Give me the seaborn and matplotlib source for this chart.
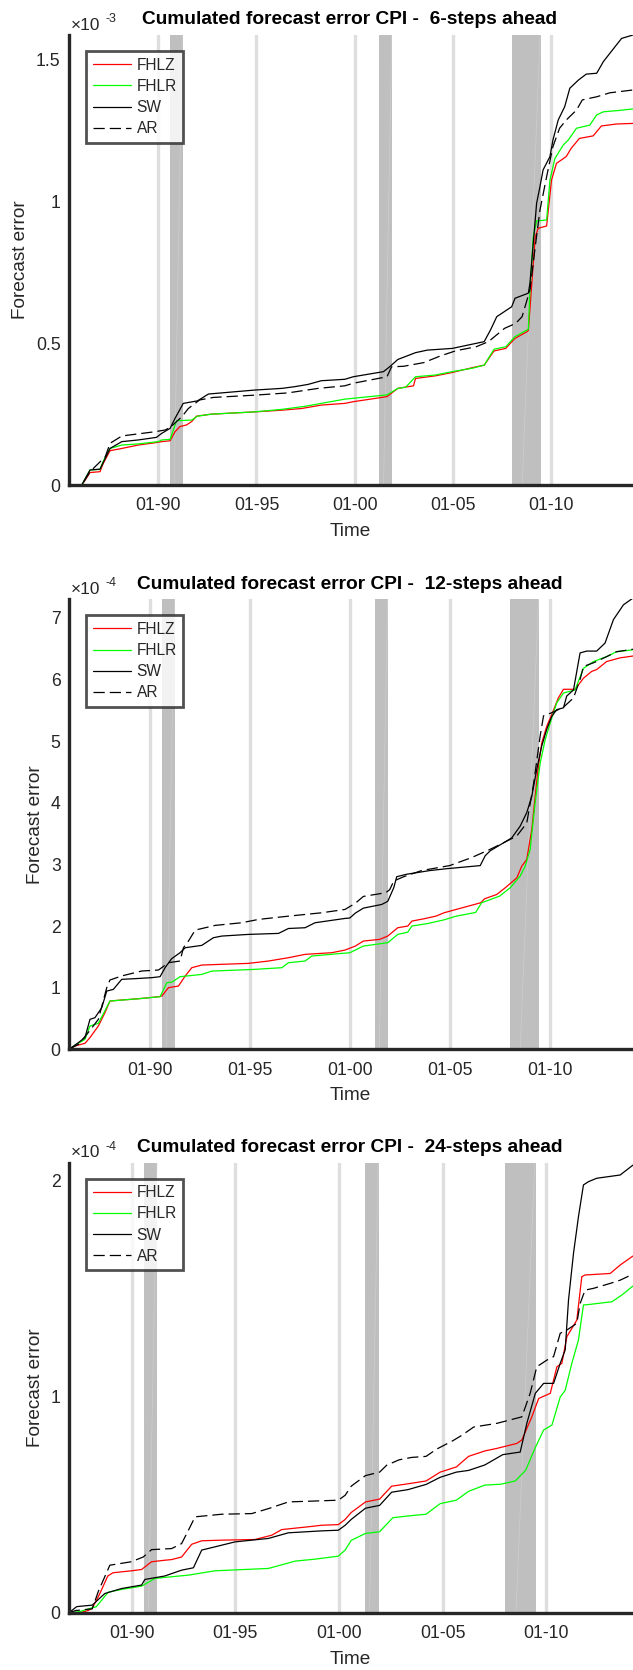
import matplotlib
matplotlib.use("Agg")
import matplotlib.pyplot as plt
from matplotlib.lines import Line2D
import pandas as pd
import seaborn as sns

# ---------------------------------------------------------------------------
# Cumulated forecast errors of CPI (monthly evaluation sample), three horizons.
# Each series: (decimal year, cumulated error in units of the axis multiplier)
# ---------------------------------------------------------------------------
MODELS = ["FHLZ", "FHLR", "SW", "AR"]

# 6-steps ahead, values x 1e-3
FHLZ_6 = [(1985.45, 0), (1986.1, 0), (1986.3, 0.02), (1986.52, 0.044), (1987.03, 0.047), (1987.2, 0.077),
          (1987.54, 0.121), (1988.14, 0.129), (1988.98, 0.141), (1989.83, 0.149), (1990.17, 0.153),
          (1990.6, 0.156), (1990.85, 0.188), (1991.1, 0.206), (1991.44, 0.212), (1991.7, 0.224),
          (1991.95, 0.243), (1992.7, 0.25), (1994.9, 0.258), (1996.3, 0.264), (1997.3, 0.27),
          (1998.3, 0.282), (1999.5, 0.288), (1999.93, 0.294), (2001.0, 0.305), (2001.65, 0.312),
          (2002.2, 0.341), (2003.0, 0.35), (2003.1, 0.376), (2004.1, 0.385), (2004.97, 0.397),
          (2005.99, 0.414), (2006.6, 0.423), (2007.1, 0.473), (2007.7, 0.482), (2008.16, 0.517),
          (2008.78, 0.541), (2008.85, 0.545), (2009.0, 0.688), (2009.2, 0.876), (2009.35, 0.906),
          (2009.78, 0.914), (2010.03, 1.076), (2010.28, 1.135), (2010.78, 1.159), (2011.03, 1.188),
          (2011.45, 1.223), (2012.15, 1.232), (2012.57, 1.267), (2013.35, 1.274), (2014.18, 1.276)]
FHLR_6 = [(1985.45, 0), (1986.1, 0), (1986.3, 0.025), (1986.52, 0.053), (1987.03, 0.055), (1987.2, 0.085),
          (1987.54, 0.129), (1988.14, 0.141), (1988.98, 0.145), (1990.0, 0.153), (1990.17, 0.159),
          (1990.6, 0.161), (1990.93, 0.227), (1991.7, 0.229), (1992.0, 0.243), (1992.7, 0.25),
          (1994.9, 0.258), (1996.3, 0.267), (1997.5, 0.278), (1998.3, 0.288), (1999.5, 0.303),
          (1999.93, 0.306), (2001.65, 0.318), (2002.2, 0.341), (2002.6, 0.345), (2003.1, 0.382),
          (2004.1, 0.388), (2004.97, 0.4), (2005.99, 0.412), (2006.6, 0.423), (2007.1, 0.479),
          (2007.7, 0.488), (2008.16, 0.523), (2008.78, 0.547), (2008.85, 0.55), (2008.93, 0.688),
          (2009.1, 0.876), (2009.27, 0.932), (2009.78, 0.935), (2009.95, 1.076), (2010.2, 1.152),
          (2010.63, 1.2), (2010.88, 1.217), (2011.3, 1.259), (2011.98, 1.27), (2012.33, 1.306),
          (2012.67, 1.317), (2013.35, 1.321), (2014.18, 1.327)]
SW_6 = [(1985.45, 0), (1986.1, 0), (1986.3, 0.025), (1986.52, 0.053), (1987.03, 0.056), (1987.54, 0.129),
        (1988.14, 0.153), (1988.98, 0.159), (1989.9, 0.168), (1990.17, 0.182), (1990.6, 0.2),
        (1990.85, 0.235), (1991.27, 0.288), (1992.0, 0.297), (1992.55, 0.321), (1994.9, 0.335),
        (1996.3, 0.341), (1996.95, 0.347), (1997.63, 0.355), (1998.3, 0.368), (1999.5, 0.373),
        (1999.93, 0.382), (2001.47, 0.4), (2001.78, 0.417), (2002.2, 0.443), (2003.1, 0.467),
        (2003.7, 0.476), (2004.97, 0.482), (2006.2, 0.5), (2006.6, 0.506), (2006.92, 0.547),
        (2007.24, 0.594), (2008.0, 0.629), (2008.17, 0.659), (2008.85, 0.677), (2008.93, 0.712),
        (2009.1, 0.853), (2009.27, 0.994), (2009.44, 1.053), (2009.6, 1.112), (2009.95, 1.159),
        (2010.1, 1.217), (2010.37, 1.288), (2010.7, 1.335), (2010.96, 1.4), (2011.4, 1.429),
        (2011.8, 1.45), (2012.33, 1.453), (2012.67, 1.494), (2013.2, 1.541), (2013.6, 1.576),
        (2014.18, 1.588)]
AR_6 = [(1985.45, 0), (1986.1, 0), (1986.52, 0.047), (1987.3, 0.1), (1987.54, 0.147), (1988.14, 0.173),
        (1989.83, 0.188), (1990.34, 0.194), (1990.6, 0.203), (1991.2, 0.241), (1991.53, 0.27),
        (1992.1, 0.3), (1992.8, 0.309), (1994.9, 0.317), (1996.6, 0.325), (1998.15, 0.341),
        (1999.5, 0.35), (1999.93, 0.359), (2001.65, 0.382), (2001.88, 0.417), (2002.5, 0.419),
        (2003.53, 0.432), (2004.35, 0.455), (2005.17, 0.474), (2006.2, 0.488), (2006.82, 0.506),
        (2007.64, 0.553), (2008.2, 0.57), (2008.53, 0.594), (2008.93, 0.688), (2009.2, 0.841),
        (2009.44, 0.97), (2009.78, 1.088), (2010.1, 1.194), (2010.44, 1.259), (2010.78, 1.288),
        (2011.3, 1.323), (2011.6, 1.359), (2012.33, 1.37), (2013.0, 1.384), (2014.18, 1.394)]

# 12-steps ahead, values x 1e-4
FHLZ_12 = [(1985.94, 0), (1986.24, 0.054), (1986.74, 0.097), (1986.99, 0.19), (1987.41, 0.378),
           (1987.74, 0.594), (1987.99, 0.783), (1988.58, 0.8), (1989.41, 0.82), (1990.42, 0.853),
           (1990.59, 0.864), (1990.92, 1.0), (1991.42, 1.026), (1991.76, 1.19), (1992.09, 1.324),
           (1992.59, 1.367), (1994.93, 1.394), (1995.93, 1.432), (1996.93, 1.486), (1997.76, 1.54),
           (1999.1, 1.567), (1999.76, 1.61), (2000.28, 1.675), (2000.68, 1.756), (2001.49, 1.783),
           (2001.9, 1.837), (2002.4, 1.972), (2002.9, 1.999), (2003.11, 2.08), (2003.72, 2.118),
           (2004.32, 2.161), (2004.72, 2.215), (2005.33, 2.269), (2005.94, 2.323), (2006.55, 2.377),
           (2006.75, 2.442), (2007.36, 2.512), (2007.78, 2.62), (2008.36, 2.78), (2008.61, 2.97),
           (2008.86, 3.08), (2009.11, 3.56), (2009.28, 4.1), (2009.44, 4.59), (2009.61, 4.97),
           (2009.86, 5.24), (2010.11, 5.43), (2010.44, 5.7), (2010.7, 5.84), (2011.28, 5.84),
           (2011.7, 6.02), (2012.11, 6.13), (2012.36, 6.16), (2012.86, 6.29), (2013.53, 6.35),
           (2014.18, 6.38)]
FHLR_12 = [(1985.94, 0), (1986.24, 0.065), (1986.74, 0.162), (1986.99, 0.378), (1987.41, 0.421),
           (1987.99, 0.783), (1989.41, 0.82), (1990.5, 0.853), (1990.84, 1.08), (1991.1, 1.091),
           (1991.5, 1.178), (1992.59, 1.215), (1993.09, 1.269), (1995.26, 1.297), (1996.6, 1.324),
           (1996.93, 1.405), (1997.76, 1.432), (1998.1, 1.513), (1999.6, 1.556), (2000.0, 1.566),
           (2000.68, 1.675), (2001.9, 1.729), (2002.4, 1.864), (2002.9, 1.9), (2003.11, 2.0),
           (2003.9, 2.04), (2004.72, 2.1), (2005.33, 2.16), (2006.3, 2.22), (2006.6, 2.377),
           (2007.5, 2.485), (2008.03, 2.62), (2008.53, 2.81), (2008.78, 2.97), (2009.03, 3.24),
           (2009.28, 4.0), (2009.53, 4.64), (2009.78, 5.02), (2010.03, 5.29), (2010.36, 5.62),
           (2010.7, 5.78), (2011.28, 5.83), (2011.7, 6.18), (2012.2, 6.29), (2012.86, 6.37),
           (2013.36, 6.45), (2014.18, 6.48)]
SW_12 = [(1985.94, 0), (1986.41, 0.108), (1986.74, 0.19), (1986.99, 0.486), (1987.24, 0.513),
         (1987.58, 0.675), (1987.83, 0.945), (1988.16, 0.972), (1988.58, 1.135), (1989.25, 1.146),
         (1990.08, 1.162), (1990.5, 1.178), (1990.75, 1.324), (1991.08, 1.47), (1991.5, 1.567),
         (1991.76, 1.648), (1992.59, 1.686), (1993.17, 1.81), (1993.59, 1.837), (1994.93, 1.864),
         (1996.43, 1.88), (1996.93, 1.96), (1997.76, 1.972), (1998.26, 2.053), (1999.76, 2.123),
         (2000.0, 2.13), (2000.28, 2.21), (2000.68, 2.29), (2001.6, 2.35), (2001.9, 2.4),
         (2002.2, 2.62), (2002.35, 2.8), (2002.85, 2.84), (2004.02, 2.9), (2004.86, 2.93),
         (2006.53, 2.98), (2006.78, 3.14), (2007.03, 3.22), (2007.7, 3.35), (2008.11, 3.43),
         (2008.53, 3.62), (2008.86, 3.84), (2009.11, 4.1), (2009.36, 4.54), (2009.61, 4.92),
         (2009.86, 5.19), (2010.11, 5.4), (2010.36, 5.51), (2010.7, 5.54), (2010.86, 5.73),
         (2011.2, 5.83), (2011.53, 6.43), (2011.86, 6.46), (2012.36, 6.46), (2012.78, 6.59),
         (2013.2, 6.97), (2013.7, 7.21), (2014.18, 7.32)]
AR_12 = [(1985.94, 0), (1986.41, 0.081), (1986.9, 0.27), (1987.41, 0.486), (1987.83, 1.0),
         (1987.99, 1.124), (1988.58, 1.19), (1989.58, 1.27), (1990.42, 1.286), (1990.92, 1.405),
         (1991.5, 1.432), (1991.67, 1.648), (1991.92, 1.756), (1992.26, 1.934), (1993.26, 2.01),
         (1994.59, 2.053), (1995.43, 2.107), (1996.93, 2.16), (1998.6, 2.215), (1999.76, 2.269),
         (2000.28, 2.37), (2000.68, 2.48), (2001.8, 2.54), (2002.0, 2.59), (2002.2, 2.73),
         (2002.7, 2.8), (2003.6, 2.9), (2005.0, 2.98), (2006.1, 3.11), (2007.0, 3.24),
         (2007.7, 3.35), (2008.36, 3.46), (2008.86, 3.67), (2009.2, 4.3), (2009.53, 5.08),
         (2009.7, 5.41), (2010.11, 5.46), (2010.7, 5.55), (2011.2, 5.7), (2011.53, 6.0),
         (2011.7, 6.21), (2012.2, 6.27), (2012.86, 6.37), (2013.36, 6.45), (2014.18, 6.49)]

# 24-steps ahead, values x 1e-4
FHLZ_24 = [(1986.98, 0), (1987.5, 0), (1987.9, 0.01), (1988.1, 0.02), (1988.47, 0.089), (1988.85, 0.17),
           (1989.1, 0.185), (1989.99, 0.194), (1990.48, 0.2), (1990.96, 0.236), (1991.6, 0.243),
           (1991.93, 0.246), (1992.41, 0.258), (1992.9, 0.317), (1993.38, 0.333), (1994.34, 0.336),
           (1995.95, 0.339), (1996.76, 0.359), (1997.24, 0.385), (1998.53, 0.398), (1999.17, 0.405),
           (1999.97, 0.408), (2000.3, 0.432), (2000.59, 0.464), (2001.28, 0.513), (2001.96, 0.526),
           (2002.54, 0.586), (2003.33, 0.597), (2004.2, 0.61), (2004.88, 0.651), (2005.66, 0.675),
           (2006.25, 0.724), (2007.03, 0.749), (2007.62, 0.761), (2008.58, 0.784), (2008.82, 0.8),
           (2009.3, 0.907), (2009.63, 0.992), (2010.19, 1.016), (2010.51, 1.139), (2010.75, 1.155),
           (2010.99, 1.278), (2011.47, 1.355), (2011.71, 1.556), (2011.87, 1.564), (2013.08, 1.571),
           (2013.56, 1.61), (2014.18, 1.652)]
FHLR_24 = [(1986.98, 0), (1987.5, 0.005), (1988.0, 0.02), (1988.3, 0.028), (1988.87, 0.095),
           (1989.52, 0.108), (1990.48, 0.123), (1991.13, 0.159), (1992.74, 0.174), (1994.02, 0.194),
           (1996.6, 0.205), (1997.89, 0.239), (1998.85, 0.248), (1999.97, 0.262), (2000.3, 0.29),
           (2000.59, 0.335), (2001.28, 0.367), (2001.96, 0.375), (2002.6, 0.44), (2003.33, 0.448),
           (2004.2, 0.456), (2004.88, 0.505), (2005.66, 0.521), (2006.25, 0.562), (2007.03, 0.591),
           (2007.8, 0.595), (2008.5, 0.61), (2009.0, 0.659), (2009.47, 0.765), (2009.87, 0.846),
           (2010.27, 0.869), (2010.67, 0.999), (2010.91, 1.03), (2011.23, 1.155), (2011.55, 1.263),
           (2011.79, 1.425), (2012.11, 1.428), (2013.16, 1.44), (2013.64, 1.471), (2014.18, 1.513)]
SW_24 = [(1986.98, 0), (1987.35, 0.028), (1987.55, 0.03), (1988.1, 0.035), (1988.71, 0.089),
         (1989.52, 0.112), (1990.48, 0.128), (1990.64, 0.154), (1991.6, 0.17), (1992.41, 0.197),
         (1992.98, 0.208), (1993.38, 0.29), (1994.02, 0.305), (1994.99, 0.328), (1996.6, 0.344),
         (1997.56, 0.37), (1999.17, 0.379), (1999.97, 0.382), (2000.3, 0.405), (2000.59, 0.432),
         (2001.28, 0.484), (2001.96, 0.497), (2002.54, 0.558), (2003.33, 0.57), (2004.2, 0.594),
         (2004.88, 0.627), (2005.66, 0.651), (2006.25, 0.659), (2007.03, 0.684), (2007.9, 0.732),
         (2008.74, 0.744), (2009.06, 0.877), (2009.47, 1.016), (2009.87, 1.062), (2010.35, 1.062),
         (2010.67, 1.155), (2010.91, 1.217), (2011.07, 1.448), (2011.31, 1.664), (2011.55, 1.834),
         (2011.79, 1.981), (2012.03, 1.996), (2012.43, 2.012), (2013.56, 2.027), (2014.18, 2.073)]
AR_24 = [(1986.98, 0), (1987.3, 0.01), (1988.1, 0.018), (1988.4, 0.1), (1988.95, 0.22), (1989.99, 0.236),
         (1990.56, 0.258), (1990.96, 0.292), (1991.93, 0.297), (1992.41, 0.32), (1992.74, 0.382),
         (1993.06, 0.444), (1994.34, 0.456), (1995.79, 0.459), (1996.6, 0.482), (1997.56, 0.513),
         (1999.97, 0.521), (2000.3, 0.544), (2000.59, 0.586), (2001.28, 0.635), (2001.96, 0.651),
         (2002.3, 0.683), (2002.9, 0.708), (2003.5, 0.719), (2004.2, 0.724), (2004.7, 0.757),
         (2005.5, 0.797), (2005.9, 0.82), (2006.5, 0.86), (2007.62, 0.877), (2008.82, 0.907),
         (2009.22, 1.016), (2009.54, 1.139), (2010.03, 1.17), (2010.35, 1.186), (2010.67, 1.294),
         (2010.99, 1.309), (2011.47, 1.34), (2011.63, 1.432), (2011.87, 1.494), (2012.27, 1.502),
         (2013.08, 1.525), (2013.56, 1.54), (2014.18, 1.568)]

# Calendar markers and NBER recessions (decimal years)
YEAR_TICKS = [1990, 1995, 2000, 2005, 2010]
YEAR_LABELS = ["01-90", "01-95", "01-00", "01-05", "01-10"]
RECESSIONS = [(1990.58, 1991.24), (2001.24, 2001.91), (2008.02, 2009.49)]

HORIZONS = [6, 12, 24]
EXPONENTS = [-3, -4, -4]
X_START = [1985.45, 1985.94, 1986.98]
X_END = 2014.18
Y_TOP = [1.588, 7.30, 2.084]
Y_TICKS = [[0, 0.5, 1, 1.5], [0, 1, 2, 3, 4, 5, 6, 7], [0, 1, 2]]
SERIES = [
    {"FHLZ": FHLZ_6, "FHLR": FHLR_6, "SW": SW_6, "AR": AR_6},
    {"FHLZ": FHLZ_12, "FHLR": FHLR_12, "SW": SW_12, "AR": AR_12},
    {"FHLZ": FHLZ_24, "FHLR": FHLR_24, "SW": SW_24, "AR": AR_24},
]

COLORS = {"FHLZ": "#ff0000", "FHLR": "#00ff00", "SW": "#000000", "AR": "#000000"}
DASHES = {"FHLZ": "", "FHLR": "", "SW": "", "AR": (9, 4)}

# ---------------------------------------------------------------------------
sns.set_theme(style="white")
plt.rcParams["font.family"] = ["Liberation Sans", "DejaVu Sans"]
INK = "#262626"

W, H = 633, 1670
fig = plt.figure(figsize=(W / 100, H / 100), dpi=100)

AX_LEFT = 69
AX_TOPS = [35, 599.3, 1162.7]
AX_HEIGHT = 450
YLABEL_X = [21, 35.5, 35.5]
LINE_W = 0.9


def fx(px):
    return px / W


def fy(py):
    return 1 - py / H


def fmt_tick(v):
    return f"{v:g}"


for i, h in enumerate(HORIZONS):
    top = AX_TOPS[i]
    bottom = top + AX_HEIGHT
    ax = fig.add_axes([fx(AX_LEFT), fy(bottom), (W - AX_LEFT) / W, AX_HEIGHT / H])
    ax.set_facecolor("white")
    ax.set_xlim(X_START[i], X_END)
    ax.set_ylim(0, Y_TOP[i])

    for yr in YEAR_TICKS:
        ax.axvline(yr, color="#dedede", lw=2.4, zorder=0.2)
    for a, b in RECESSIONS:
        ax.axvspan(a, b, color="#bfbfbf", lw=0, zorder=0.4)
        w = b - a
        ax.plot([a + 0.35 * w, a + 0.97 * w], [0, Y_TOP[i]], color="#cdcdcd", lw=0.5, zorder=0.5)

    frames = []
    for m in MODELS:
        d = pd.DataFrame(SERIES[i][m], columns=["t", "v"])
        d["model"] = m
        frames.append(d)
    df = pd.concat(frames, ignore_index=True)

    sns.lineplot(data=df, x="t", y="v", hue="model", style="model",
                 hue_order=MODELS, style_order=MODELS, palette=COLORS, dashes=DASHES,
                 estimator=None, sort=False, lw=LINE_W, legend=False, ax=ax, zorder=3)

    ax.set_xlabel("")
    ax.set_ylabel("")
    ax.set_xticks(YEAR_TICKS)
    ax.set_xticklabels(YEAR_LABELS)
    ax.set_yticks(Y_TICKS[i])
    ax.set_yticklabels([fmt_tick(v) for v in Y_TICKS[i]])

    for s in ("top", "right"):
        ax.spines[s].set_visible(False)
    for s in ("left", "bottom"):
        ax.spines[s].set_linewidth(2.4)
        ax.spines[s].set_color(INK)
        ax.spines[s].set_zorder(5)
    ax.tick_params(axis="both", direction="in", length=5, width=2.2, color=INK,
                   labelsize=12.7, labelcolor=INK)
    ax.tick_params(axis="x", pad=9)
    ax.tick_params(axis="y", pad=6)

    handles = [Line2D([], [], color=COLORS[m], lw=LINE_W,
                      linestyle=(0, DASHES[m]) if DASHES[m] else "-") for m in MODELS]
    leg = ax.legend(handles, MODELS, loc="upper left",
                    bbox_to_anchor=(17 / (W - AX_LEFT), 1 - 16 / AX_HEIGHT),
                    borderaxespad=0, fontsize=11.2, frameon=True, fancybox=False,
                    handlelength=2.5, handletextpad=0.33, labelspacing=0.40,
                    borderpad=0.42)
    leg.get_frame().set_edgecolor(INK)
    leg.get_frame().set_linewidth(2.0)
    leg.set_zorder(10)
    for t in leg.get_texts():
        t.set_color(INK)

    fig.text(fx(350), fy(top - 15), f"Cumulated forecast error CPI -  {h}-steps ahead",
             ha="center", va="center", fontsize=13.8, fontweight="bold", color="black")
    fig.text(fx(70.6), fy(top - 10), "\u00d710", ha="left", va="center",
             fontsize=12.4, color=INK)
    fig.text(fx(105.8), fy(top - 16), f"{EXPONENTS[i]}", ha="left", va="center",
             fontsize=9, color=INK)
    fig.text(fx(YLABEL_X[i]), fy(top + AX_HEIGHT / 2), "Forecast error", rotation=90,
             ha="center", va="center", fontsize=13.7, color=INK)
    fig.text(fx(350), fy(bottom + 46.7), "Time", ha="center", va="center",
             fontsize=13.7, color=INK)

fig.savefig("out.png", dpi=100, facecolor="white")
